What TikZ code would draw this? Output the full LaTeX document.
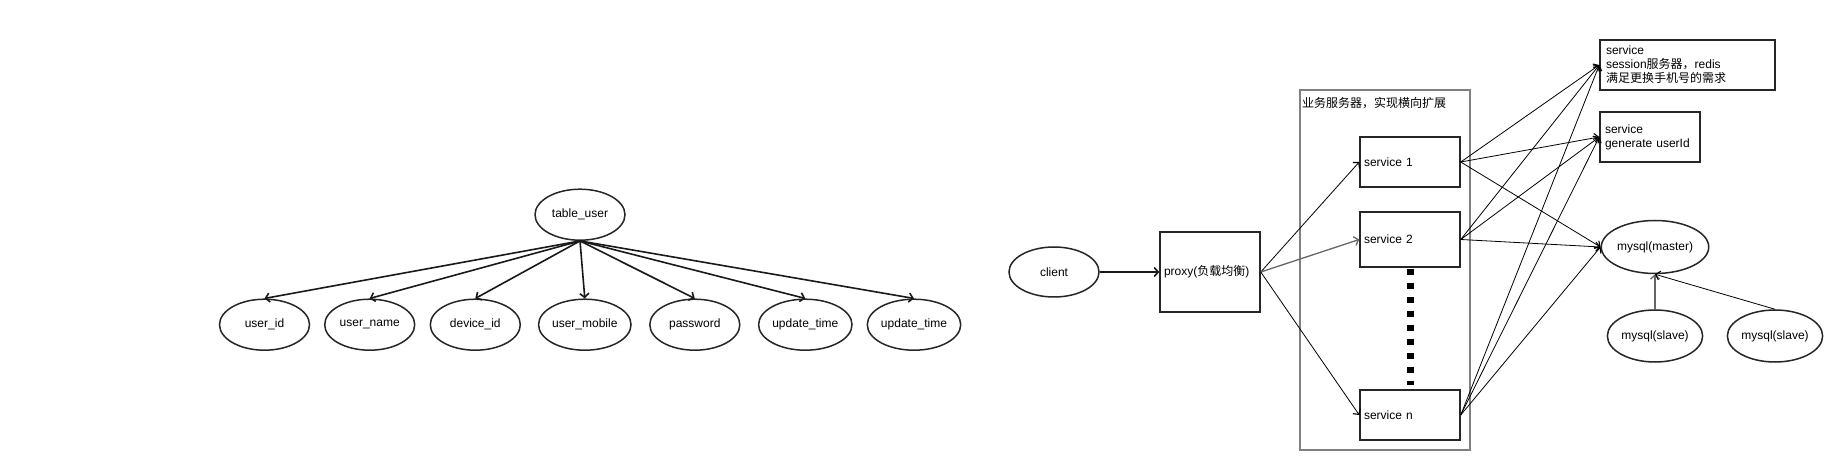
\documentclass[tikz,border=0pt]{standalone}
\usepackage{fontspec}
\setmainfont{Liberation Sans}
\newfontfamily\cjk{Noto Sans CJK SC}
\usetikzlibrary{shapes.geometric,arrows.meta}
\tikzset{
  every node/.style={font=\fontsize{12}{14}\selectfont},
  ell/.style={draw=black!85, line width=1.5pt, ellipse, minimum width=90pt, minimum height=51pt, inner sep=0pt},
  box/.style={draw=black!85, line width=1.5pt, rectangle, align=left, inner ysep=0pt},
  grp/.style={draw=black!50, line width=1.4pt, rectangle, inner sep=0pt},
  thickarr/.style={draw=black!90, line width=1.6pt, -{Straight Barb[length=4pt,width=9pt,line width=1.6pt]}},
  thinarr/.style={draw=black, line width=0.8pt, -{Straight Barb[length=4pt,width=9pt,line width=1.1pt]}},
  grayarr/.style={draw=black!60, line width=1.3pt, -{Straight Barb[length=4pt,width=9pt,line width=1.3pt]}},
}
\begin{document}
\begin{tikzpicture}[x=1pt,y=-1pt]
\useasboundingbox[fill=white] (0,0) rectangle (1840,470);

% left: table tree
\node[ell] (tu) at (580,214.7) {table\_user};
\node[ell] (c1) at (264.5,324.7) {user\_id};
\node[ell] (c2) at (369.7,324.7) {user\_name};
\node[ell] (c3) at (475.3,324.7) {device\_id};
\node[ell] (c4) at (584.8,324.7) {user\_mobile};
\node[ell] (c5) at (694.8,324.7) {password};
\node[ell] (c6) at (805.3,324.7) {update\_time};
\node[ell] (c7) at (914,324.7) {update\_time};
\foreach \c in {c1,c2,c3,c4,c5,c6,c7} \draw[thickarr] (tu.south) -- (\c.north);

% right: architecture
\node[ell, minimum height=50pt] (client) at (1054,272) {client};
\node[box, minimum width=100pt, minimum height=80pt, text width=92pt, inner xsep=4pt] (proxy) at (1210,272) {proxy({\cjk 负载均衡})};

\node[grp, minimum width=170pt, minimum height=360pt] (group) at (1385,270) {};
\node[anchor=west, inner sep=0pt] (glabel) at (1302,102.7) {\cjk 业务服务器，实现横向扩展};

\node[box, minimum width=100pt, minimum height=50pt, text width=92pt, inner xsep=4pt] (s1) at (1410,162) {service 1};
\node[box, minimum width=100pt, minimum height=55pt, text width=92pt, inner xsep=4pt] (s2) at (1410,239.5) {service 2};
\node[box, minimum width=100pt, minimum height=50pt, text width=92pt, inner xsep=4pt] (sn) at (1410,415) {service n};

\draw[line width=7pt, dash pattern=on 6pt off 8pt] ([yshift=-1pt]s2.south) -- ([yshift=4pt]sn.north);

\node[box, minimum width=175pt, minimum height=50pt, text width=163pt, inner xsep=6pt] (sess) at (1687.5,65) {service\\session{\cjk 服务器，}redis\\{\cjk 满足更换手机号的需求}};
\node[box, minimum width=100pt, minimum height=50pt, text width=90pt, inner xsep=5pt] (gen) at (1650,137) {service\\generate userId};

\node[ell, minimum height=53pt] (master) at (1655,247) {mysql(master)};
\node[ell, minimum height=52pt] (sl1) at (1655,336) {mysql(slave)};
\node[ell, minimum height=52pt] (sl2) at (1775,336) {mysql(slave)};

\draw[thickarr] (client.east) -- (proxy.west);
\draw[thinarr] (proxy.east) -- (s1.west);
\draw[grayarr] (proxy.east) -- (s2.west);
\draw[thinarr] (proxy.east) -- (sn.west);

\foreach \s in {s1,s2,sn} {
  \draw[thinarr] (\s.east) -- (sess.west);
  \draw[thinarr] (\s.east) -- (gen.west);
  \draw[thinarr] (\s.east) -- (master.west);
}

\draw[grayarr, line width=1.6pt] (sl1.north) -- (master.south);
\draw[thinarr] (sl2.north) -- (master.south);
\end{tikzpicture}
\end{document}
